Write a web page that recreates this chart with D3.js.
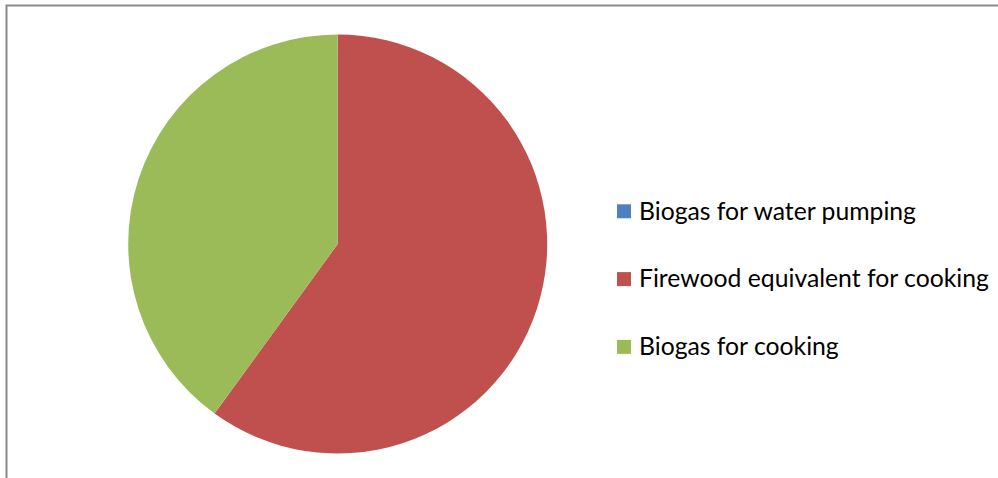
<!DOCTYPE html>
<html>
<head>
<meta charset="utf-8">
<script src="https://cdn.jsdelivr.net/npm/d3@7"></script>
<style>
  html, body { margin: 0; padding: 0; background: #fff; }
  svg { display: block; }
</style>
</head>
<body>
<svg id="chart" width="998" height="478"></svg>
<script>
// Shares of the energy output
const categories = ["Biogas for water pumping", "Firewood equivalent for cooking", "Biogas for cooking"];
const values = [0, 60, 40];
const colors = ["#4F81BD", "#C0504D", "#9BBB59"];

const svg = d3.select("#chart");
const W = 998, H = 478;

// chart frame (runs off the right and bottom edges)
svg.append("rect")
  .attr("x", 6.5).attr("y", 5.5)
  .attr("width", W + 10).attr("height", H + 10)
  .attr("fill", "#fff")
  .attr("stroke", "#8a8a8a")
  .attr("stroke-width", 2);

const cx = 337.7, cy = 244, r = 209.5;

const data = categories.map((c, i) => ({ name: c, value: values[i], color: colors[i] }));

const pie = d3.pie().sort(null).value(d => d.value);
const arc = d3.arc().innerRadius(0).outerRadius(r);

svg.append("g")
  .attr("transform", `translate(${cx},${cy})`)
  .selectAll("path")
  .data(pie(data))
  .join("path")
  .attr("d", arc)
  .attr("fill", d => d.data.color);

// legend
const legendX = 617, legendY0 = 211.3, rowGap = 67.8, sw = 14;
const font = "Lato, 'Open Sans', sans-serif";

const legend = svg.append("g");
const rows = legend.selectAll("g")
  .data(data)
  .join("g")
  .attr("transform", (d, i) => `translate(${legendX},${legendY0 + i * rowGap})`);

rows.append("rect")
  .attr("x", 0).attr("y", -sw / 2)
  .attr("width", sw).attr("height", sw)
  .attr("fill", d => d.color);

const labels = rows.append("text")
  .attr("x", 22)
  .attr("y", 8.2)
  .attr("font-family", font)
  .attr("font-size", 24)
  .attr("fill", "#000")
  .text(d => d.name);

// size the legend text so the first entry spans ~277px
const w0 = labels.node().getComputedTextLength();
const fs = 24 * 277 / w0;
labels.attr("font-size", fs.toFixed(2));
</script>
</body>
</html>
